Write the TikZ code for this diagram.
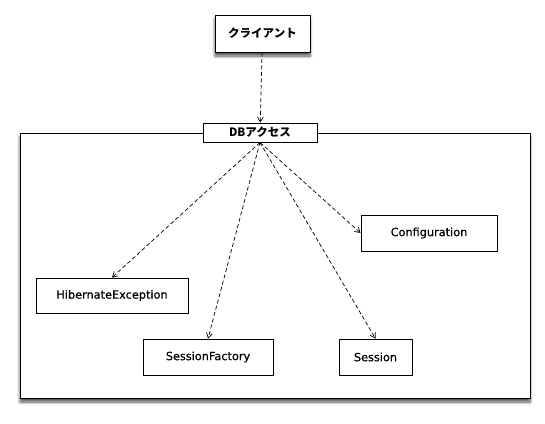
\documentclass[tikz,border=0pt]{standalone}
\usepackage{fontspec}
\setmainfont{DejaVu Sans}[BoldFont={DejaVu Sans},BoldFeatures={FakeBold=0.6}]
\newfontfamily\jpfont{Noto Sans CJK JP}
\usetikzlibrary{arrows.meta,positioning,shadows.blur}

\begin{document}
\begin{tikzpicture}[x=1pt, y=-1pt, every node/.style={font=\fontsize{11.3}{13}\selectfont\bfseries}, box/.style={draw, fill=white, line width=0.9pt, inner sep=0pt, align=center}, jp/.style={font=\jpfont\fontsize{11.5}{13}\selectfont\bfseries}, arr/.style={-{Straight Barb[length=5pt,width=6pt]}, dash pattern=on 4pt off 2.5pt, line width=0.7pt}, shade/.style={blur shadow={shadow xshift=0pt, shadow yshift=-4pt, shadow blur radius=3pt, shadow blur steps=6, shadow opacity=70}}]
\useasboundingbox (0,0) rectangle (545,423);
\node[box,shade,jp,minimum width=95pt,minimum height=37pt] (client) at (262.5,33.5) {クライアント};
\draw[fill=white,line width=0.9pt,shade] (20,133) rectangle (530,398);
\node[box,jp,minimum width=114pt,minimum height=19pt] (db) at (260,132.5) {DBアクセス};
\node[box,minimum width=152pt,minimum height=35pt] (hib) at (112,295.5) {HibernateException};
\node[box,minimum width=136pt,minimum height=36pt] (conf) at (429,233) {Configuration};
\node[box,minimum width=130pt,minimum height=36pt] (sf) at (208,357) {SessionFactory};
\node[box,minimum width=73pt,minimum height=36pt] (sess) at (375.5,357) {Session};
\draw[arr] (client)--(db);
\draw[arr] (db.south)--(hib.north);
\draw[arr] (db.south)--(sf.north);
\draw[arr] (db.south)--(sess.north);
\draw[arr] (db.south)--(conf.west);
\end{tikzpicture}
\end{document}
